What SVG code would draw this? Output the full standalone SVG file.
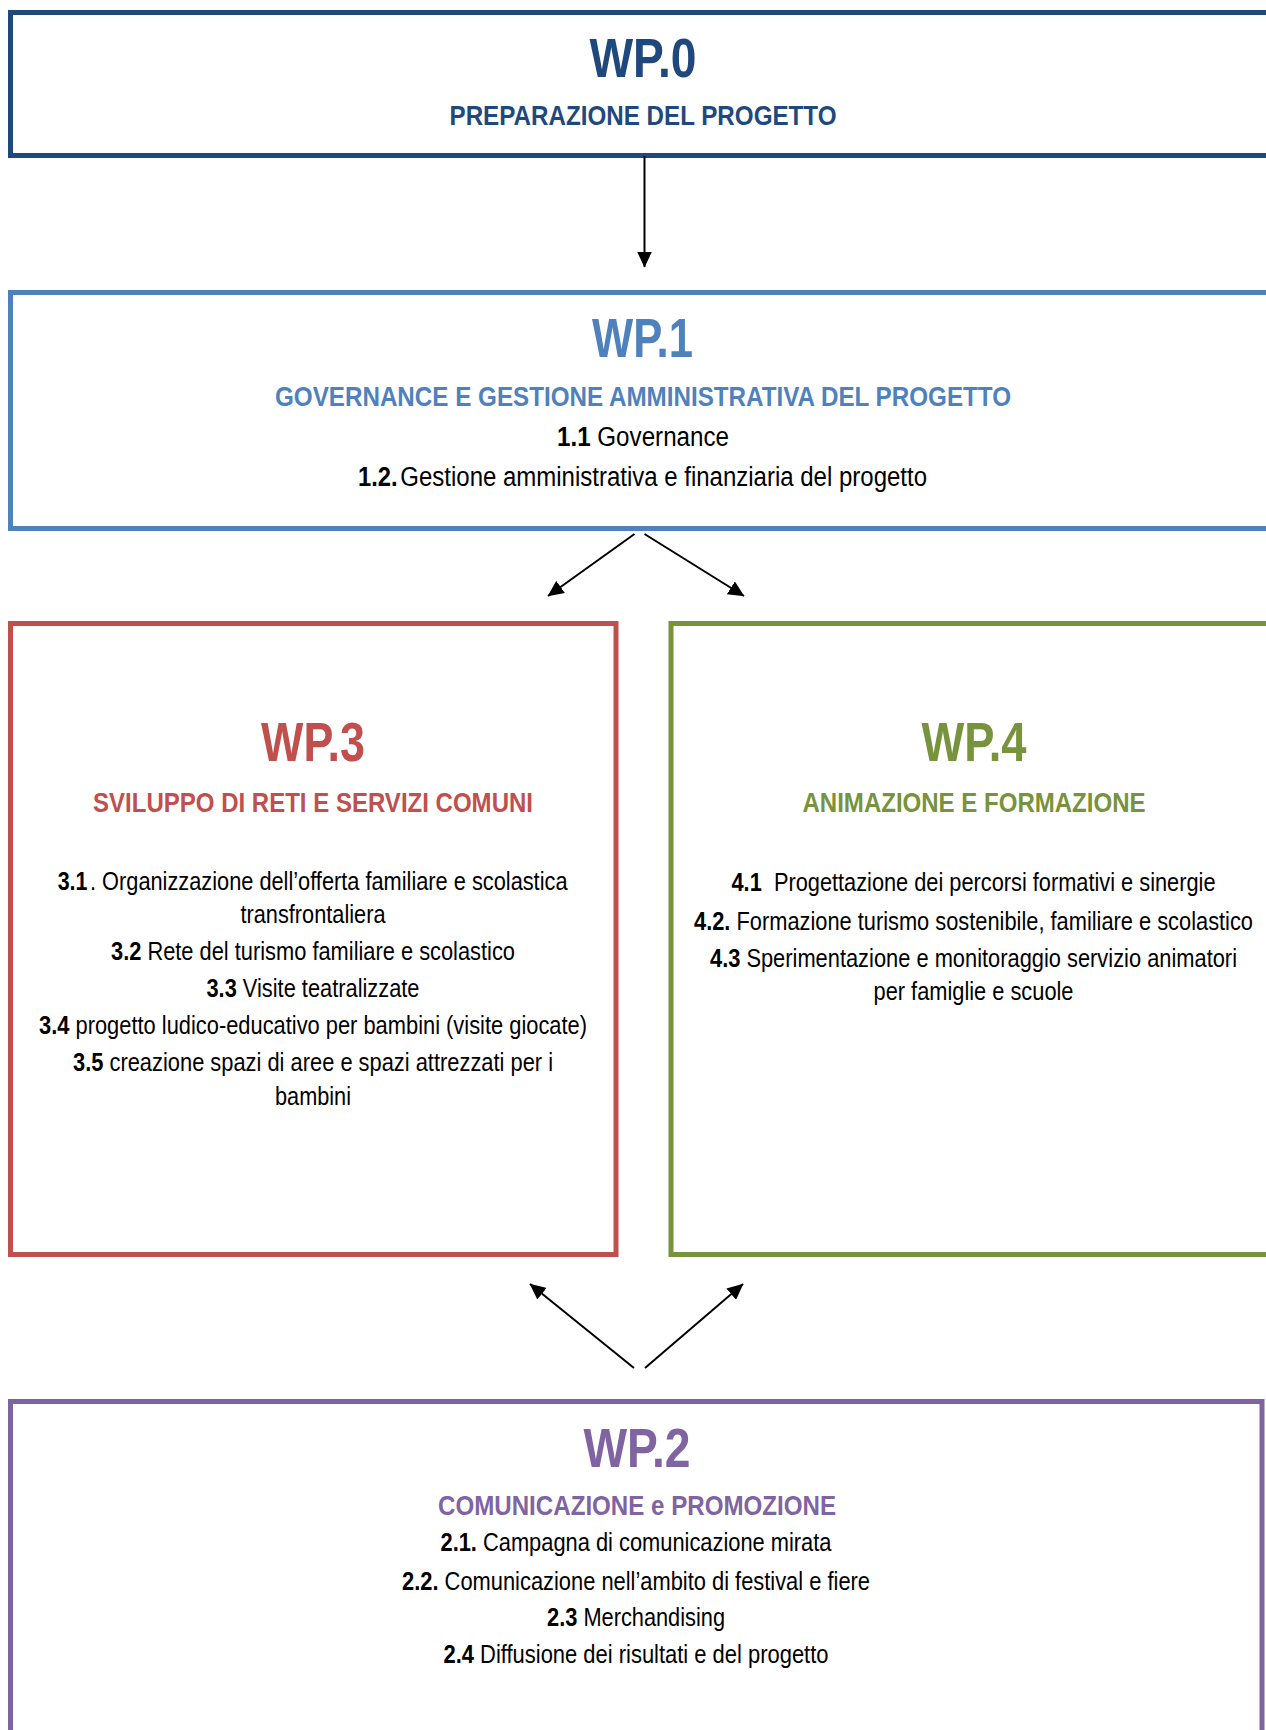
<svg xmlns="http://www.w3.org/2000/svg" width="1266" height="1730" viewBox="0 0 1266 1730">
<style>
text{font-family:"Liberation Sans",Arial,sans-serif;text-anchor:middle}
text.st{text-anchor:start}
text.en{text-anchor:end}
.box{fill:#fff;stroke-width:5}
.t{font-size:56px;font-weight:bold}
.s{font-size:28px;font-weight:bold}
.b1{font-size:27px;fill:#000}
.b{font-size:25px;fill:#000}
.bs{font-size:22.3px;fill:#000}
.bd{font-weight:bold}
.c0{fill:#1F497D}.k0{stroke:#1F497D}
.c1{fill:#4F81BD}.k1{stroke:#4F81BD}
.c3{fill:#C0504D}.k3{stroke:#C0504D}
.c4{fill:#77933C}.k4{stroke:#77933C}
.c2{fill:#8064A2}.k2{stroke:#8064A2}
.e{stroke:#000;stroke-width:2;fill:none;marker-end:url(#ah)}
</style>
<defs>
<marker id="ah" markerUnits="userSpaceOnUse" markerWidth="16" markerHeight="15" viewBox="0 0 16 15" refX="15.5" refY="7.5" orient="auto">
<path d="M0,0 L16,7.5 L0,15 z" fill="#000"/>
</marker>
</defs>
<rect width="1266" height="1730" fill="#fff"/>

<g id="wp0">
<rect class="box k0" x="10.5" y="12.5" width="1280" height="143"/>
<text class="t c0" x="643" y="77" textLength="107" lengthAdjust="spacingAndGlyphs">WP.0</text>
<text class="s c0" x="643" y="125" textLength="387" lengthAdjust="spacingAndGlyphs">PREPARAZIONE DEL PROGETTO</text>
</g>

<g id="wp1">
<rect class="box k1" x="10.5" y="292.5" width="1280" height="236"/>
<text class="t c1" x="642.5" y="357" textLength="101" lengthAdjust="spacingAndGlyphs">WP.1</text>
<text class="s c1" x="643" y="406" textLength="736" lengthAdjust="spacingAndGlyphs">GOVERNANCE E GESTIONE AMMINISTRATIVA DEL PROGETTO</text>
<text class="b1 bd en" x="590.6" y="446" textLength="33.6" lengthAdjust="spacingAndGlyphs">1.1</text>
<text class="b1 st" x="597.3" y="446" textLength="131.7" lengthAdjust="spacingAndGlyphs">Governance</text>
<text class="b1 bd en" x="397.6" y="486" textLength="39.6" lengthAdjust="spacingAndGlyphs">1.2.</text>
<text class="b1 st" x="400.3" y="486" textLength="526.7" lengthAdjust="spacingAndGlyphs">Gestione amministrativa e finanziaria del progetto</text>
</g>

<g id="wp3">
<rect class="box k3" x="10.5" y="623.5" width="605.5" height="631"/>
<text class="t c3" x="313" y="761" textLength="104" lengthAdjust="spacingAndGlyphs">WP.3</text>
<text class="s c3" x="313" y="812" textLength="440" lengthAdjust="spacingAndGlyphs">SVILUPPO DI RETI E SERVIZI COMUNI</text>
<text class="b bd en" x="87.5" y="890" textLength="29.8" lengthAdjust="spacingAndGlyphs">3.1</text>
<text class="b st" x="90" y="890" textLength="477.5" lengthAdjust="spacingAndGlyphs">. Organizzazione dell’offerta familiare e scolastica</text>
<text class="b" x="313" y="923" textLength="145" lengthAdjust="spacingAndGlyphs">transfrontaliera</text>
<text class="b bd en" x="141.35" y="960" textLength="30.35" lengthAdjust="spacingAndGlyphs">3.2</text>
<text class="b st" x="147.4" y="960" textLength="367.6" lengthAdjust="spacingAndGlyphs">Rete del turismo familiare e scolastico</text>
<text class="b bd en" x="236.77" y="997" textLength="30.27" lengthAdjust="spacingAndGlyphs">3.3</text>
<text class="b st" x="242.8" y="997" textLength="176.7" lengthAdjust="spacingAndGlyphs">Visite teatralizzate</text>
<text class="b bd en" x="69.39" y="1034" textLength="30.39" lengthAdjust="spacingAndGlyphs">3.4</text>
<text class="b st" x="75.5" y="1034" textLength="511.5" lengthAdjust="spacingAndGlyphs">progetto ludico-educativo per bambini (visite giocate)</text>
<text class="b bd en" x="103.39" y="1071" textLength="30.39" lengthAdjust="spacingAndGlyphs">3.5</text>
<text class="b st" x="109.5" y="1071" textLength="443.5" lengthAdjust="spacingAndGlyphs">creazione spazi di aree e spazi attrezzati per i</text>
<text class="b" x="313" y="1105" textLength="76" lengthAdjust="spacingAndGlyphs">bambini</text>
</g>

<g id="wp4">
<rect class="box k4" x="671" y="623.5" width="620" height="631"/>
<text class="t c4" x="974" y="761" textLength="105" lengthAdjust="spacingAndGlyphs">WP.4</text>
<text class="s c4" x="974" y="812" textLength="343" lengthAdjust="spacingAndGlyphs">ANIMAZIONE E FORMAZIONE</text>
<text class="bs bd en" x="761.76" y="891" transform="matrix(1 0 0 1.1211 0 -107.9)" textLength="30.26" lengthAdjust="spacingAndGlyphs">4.1</text>
<text class="bs st" x="773.9" y="891" transform="matrix(1 0 0 1.1211 0 -107.9)" textLength="441.6" lengthAdjust="spacingAndGlyphs">Progettazione dei percorsi formativi e sinergie</text>
<text class="bs bd en" x="730.4" y="930" transform="matrix(1 0 0 1.1211 0 -112.6)" textLength="36.4" lengthAdjust="spacingAndGlyphs">4.2.</text>
<text class="bs st" x="736.5" y="930" transform="matrix(1 0 0 1.1211 0 -112.6)" textLength="516.5" lengthAdjust="spacingAndGlyphs">Formazione turismo sostenibile, familiare e scolastico</text>
<text class="bs bd en" x="740.37" y="967" transform="matrix(1 0 0 1.1211 0 -117.1)" textLength="30.37" lengthAdjust="spacingAndGlyphs">4.3</text>
<text class="bs st" x="746.4" y="967" transform="matrix(1 0 0 1.1211 0 -117.1)" textLength="490.6" lengthAdjust="spacingAndGlyphs">Sperimentazione e monitoraggio servizio animatori</text>
<text class="b" x="973.5" y="1000" textLength="200" lengthAdjust="spacingAndGlyphs">per famiglie e scuole</text>
</g>

<g id="wp2">
<rect class="box k2" x="10.5" y="1401.5" width="1251.5" height="400"/>
<text class="t c2" x="637" y="1467" textLength="107" lengthAdjust="spacingAndGlyphs">WP.2</text>
<text class="s c2" x="637" y="1515" textLength="398" lengthAdjust="spacingAndGlyphs">COMUNICAZIONE e PROMOZIONE</text>
<text class="b bd en" x="476.94" y="1551" textLength="36.44" lengthAdjust="spacingAndGlyphs">2.1.</text>
<text class="b st" x="483" y="1551" textLength="348.5" lengthAdjust="spacingAndGlyphs">Campagna di comunicazione mirata</text>
<text class="b bd en" x="438.48" y="1590" textLength="36.48" lengthAdjust="spacingAndGlyphs">2.2.</text>
<text class="b st" x="444.6" y="1590" textLength="425.4" lengthAdjust="spacingAndGlyphs">Comunicazione nell’ambito di festival e fiere</text>
<text class="b bd en" x="577.36" y="1626" textLength="30.36" lengthAdjust="spacingAndGlyphs">2.3</text>
<text class="b st" x="583.4" y="1626" textLength="141.6" lengthAdjust="spacingAndGlyphs">Merchandising</text>
<text class="b bd en" x="473.97" y="1663" textLength="30.47" lengthAdjust="spacingAndGlyphs">2.4</text>
<text class="b st" x="480.1" y="1663" textLength="348.4" lengthAdjust="spacingAndGlyphs">Diffusione dei risultati e del progetto</text>
</g>

<g id="connectors">
<line class="e" x1="644.5" y1="156" x2="644.5" y2="267"/>
<line class="e" x1="634.5" y1="534" x2="548" y2="596"/>
<line class="e" x1="644.5" y1="534" x2="744" y2="596"/>
<line class="e" x1="634" y1="1368" x2="530" y2="1284"/>
<line class="e" x1="645" y1="1368" x2="743" y2="1284"/>
</g>
</svg>
